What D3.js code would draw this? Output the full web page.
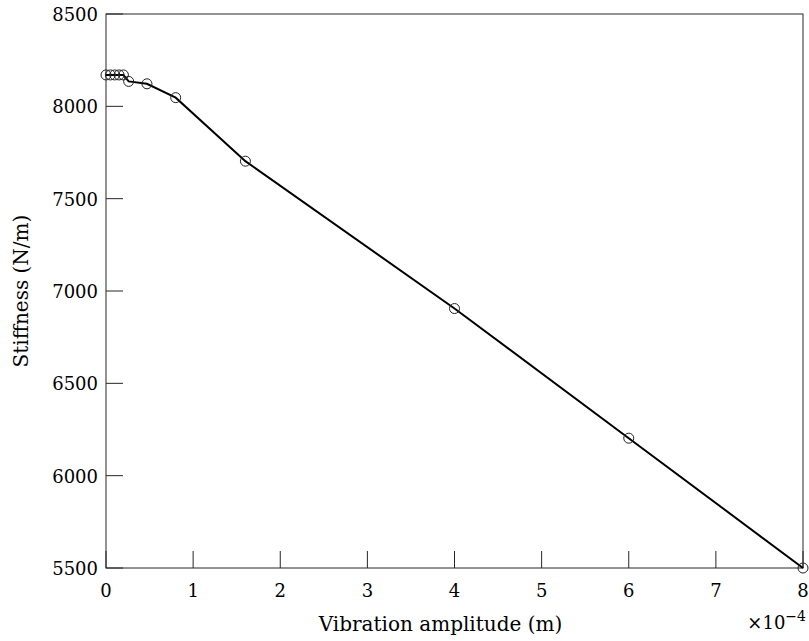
<!DOCTYPE html>
<html><head><meta charset="utf-8">
<script src="https://cdn.jsdelivr.net/npm/d3@7"></script>
<style>body{margin:0;background:#fff}svg{display:block}text{font-family:"DejaVu Serif",serif;fill:#000}</style>
</head><body>
<svg id="c" width="809" height="641"></svg>
<script>
const amplitude = [0, 0.05, 0.1, 0.15, 0.2, 0.26, 0.47, 0.8, 1.6, 4.0, 6.0, 8.0]; // x 1e-4 m
const stiffness = [8170, 8170, 8170, 8170, 8170, 8135, 8122, 8047, 7703, 6905, 6203, 5500];
const xTicks = [0,1,2,3,4,5,6,7,8];
const yTicks = [5500,6000,6500,7000,7500,8000,8500];

const L=106,R=803,T=14,B=568;
const svg=d3.select("#c");
const x=d3.scaleLinear().domain([0,8]).range([L,R]);
const y=d3.scaleLinear().domain([5500,8500]).range([B,T]);
const ax="#262626", tl=17;

const g=svg.append("g");
g.selectAll(".xt").data(xTicks).enter().append("line")
 .attr("x1",d=>x(d)).attr("x2",d=>x(d)).attr("y1",B).attr("y2",B-tl).attr("stroke",ax);
g.selectAll(".yt").data(yTicks).enter().append("line")
 .attr("x1",L).attr("x2",L+tl).attr("y1",d=>y(d)).attr("y2",d=>y(d)).attr("stroke",ax);
g.append("rect").attr("x",L).attr("y",T).attr("width",R-L).attr("height",B-T)
 .attr("fill","none").attr("stroke",ax).attr("stroke-width",1);
g.selectAll(".xl").data(xTicks).enter().append("text")
 .attr("x",d=>x(d)).attr("y",B+29).attr("text-anchor","middle").attr("font-size",18).text(d=>d);
g.selectAll(".yl").data(yTicks).enter().append("text")
 .attr("x",L-8).attr("y",d=>y(d)+7).attr("text-anchor","end").attr("font-size",18).text(d=>d);
const ex=g.append("text").attr("x",806).attr("y",629).attr("text-anchor","end").attr("font-size",18);
ex.append("tspan").text("\u00d710");
ex.append("tspan").attr("dy",-8).attr("font-size",14).text("\u22124");
g.append("text").attr("x",(L+R)/2-14).attr("y",631).attr("text-anchor","middle").attr("font-size",20).text("Vibration amplitude (m)");
g.append("text").attr("transform",`translate(28,${(T+B)/2}) rotate(-90)`).attr("text-anchor","middle").attr("font-size",20).text("Stiffness (N/m)");

const pts=amplitude.map((a,i)=>[a,stiffness[i]]);
g.append("path").datum(pts).attr("fill","none").attr("stroke","#000").attr("stroke-width",2)
 .attr("d",d3.line().x(d=>x(d[0])).y(d=>y(d[1])));
g.selectAll(".pt").data(pts).enter().append("circle")
 .attr("cx",d=>x(d[0])).attr("cy",d=>y(d[1])).attr("r",5)
 .attr("fill","none").attr("stroke","#222").attr("stroke-width",1);
</script>
</body></html>
